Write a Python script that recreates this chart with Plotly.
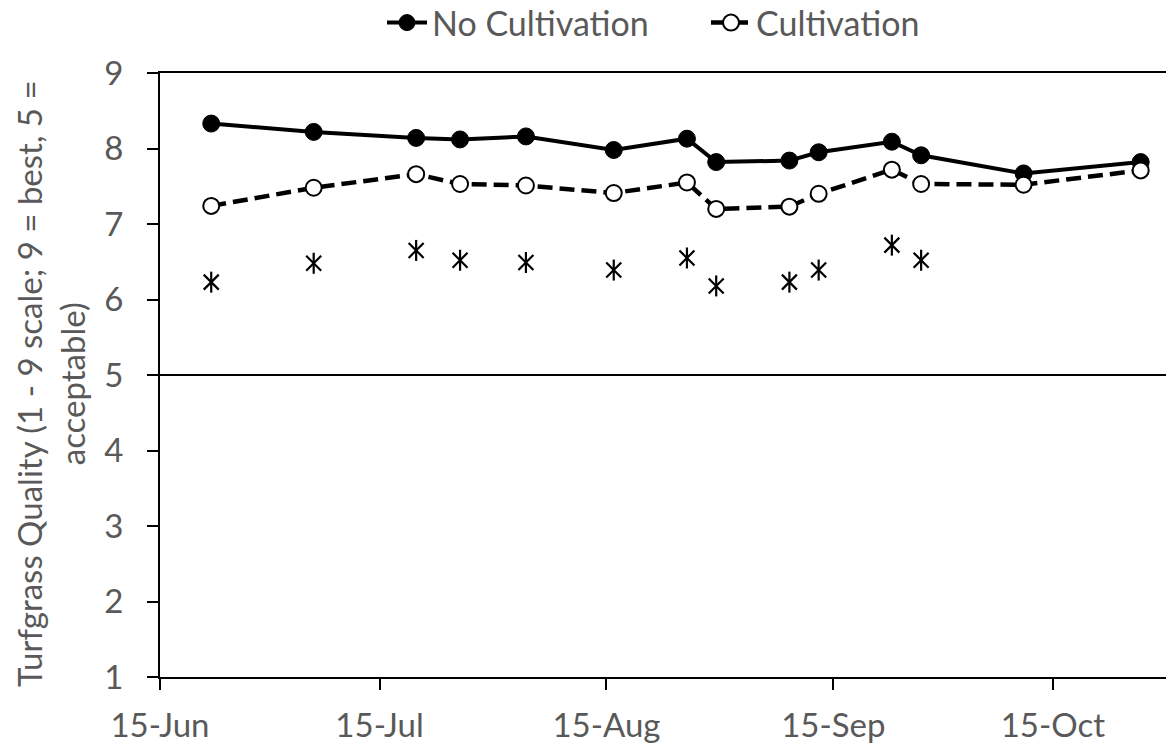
import plotly.graph_objects as go

# ---- data ----
dates = ["2013-06-22", "2013-07-06", "2013-07-20", "2013-07-26", "2013-08-04",
         "2013-08-16", "2013-08-26", "2013-08-30", "2013-09-09", "2013-09-13",
         "2013-09-23", "2013-09-27", "2013-10-11", "2013-10-27"]
no_cultivation = [8.33, 8.22, 8.14, 8.12, 8.16, 7.98, 8.13, 7.82, 7.84, 7.95, 8.09, 7.91, 7.67, 7.82]
cultivation = [7.24, 7.48, 7.66, 7.53, 7.51, 7.41, 7.55, 7.20, 7.23, 7.40, 7.72, 7.53, 7.52, 7.71]
sig_dates = dates[:12]
sig_values = [6.23, 6.48, 6.65, 6.52, 6.49, 6.39, 6.55, 6.18, 6.23, 6.39, 6.72, 6.52]
tick_dates = ["2013-06-15", "2013-07-15", "2013-08-15", "2013-09-15", "2013-10-15"]
tick_labels = ["15-Jun", "15-Jul", "15-Aug", "15-Sep", "15-Oct"]
y_ticks = [1, 2, 3, 4, 5, 6, 7, 8, 9]
acceptable = 5
x_range = ["2013-06-15", "2013-10-30 11:00"]
y_title = "Turfgrass Quality (1 - 9 scale; 9 = best, 5 =<br>acceptable)"

FONT = "Lato"
GRAY = "#595959"
FS_TICK = 33
FS_LEG = 34

fig = go.Figure()

# significance asterisks (X + vertical bar)
fig.add_trace(go.Scatter(x=sig_dates, y=sig_values, mode="markers", showlegend=False,
                         hoverinfo="skip",
                         marker=dict(symbol="x-thin-open", size=15, color="black",
                                     line=dict(color="black", width=2.2))))
fig.add_trace(go.Scatter(x=sig_dates, y=sig_values, mode="markers", showlegend=False,
                         hoverinfo="skip",
                         marker=dict(symbol="line-ns-open", size=15, color="black",
                                     line=dict(color="black", width=2.2))))

fig.add_trace(go.Scatter(x=dates, y=no_cultivation, mode="lines+markers", name="No Cultivation",
                         line=dict(color="black", width=4),
                         marker=dict(symbol="circle", size=17, color="black",
                                     line=dict(color="black", width=1))))
fig.add_trace(go.Scatter(x=dates, y=cultivation, mode="lines+markers", name="Cultivation",
                         line=dict(color="black", width=4.5, dash="15px,7px"),
                         marker=dict(symbol="circle", size=16, color="white",
                                     line=dict(color="black", width=2))))

fig.add_shape(type="line", xref="paper", x0=0, x1=1, yref="y", y0=acceptable, y1=acceptable,
              line=dict(color="black", width=2), layer="below")

fig.add_annotation(text=y_title, xref="paper", yref="paper",
                   x=(50 - 160) / 1006, y=0.485, xanchor="center", yanchor="middle",
                   textangle=-90, showarrow=False,
                   font=dict(family=FONT, size=FS_TICK, color=GRAY))

fig.update_layout(
    width=1166, height=745,
    margin=dict(l=160, r=0, t=73, b=68),
    paper_bgcolor="white", plot_bgcolor="white",
    font=dict(family=FONT, size=FS_TICK, color=GRAY),
    legend=dict(orientation="h", xref="container", yref="container",
                x=382 / 1166, xanchor="left", y=1 - 23 / 745, yanchor="middle",
                font=dict(family=FONT, size=FS_LEG, color=GRAY), bgcolor="rgba(0,0,0,0)",
                traceorder="normal", entrywidth=269, itemwidth=40),
    xaxis=dict(type="date", range=x_range, tickvals=tick_dates, ticktext=tick_labels,
               showgrid=False, zeroline=False, showline=True, linecolor="black", linewidth=2,
               mirror=True, ticks="outside", ticklen=11, tickwidth=2, tickcolor="black",
               tickfont=dict(family=FONT, size=FS_TICK, color=GRAY), ticklabelstandoff=7),
    yaxis=dict(range=[1, 9], tickvals=y_ticks, showgrid=False, zeroline=False,
               showline=True, linecolor="black", linewidth=2,
               ticks="outside", ticklen=11, tickwidth=2, tickcolor="black",
               tickfont=dict(family=FONT, size=FS_TICK, color=GRAY), ticklabelstandoff=17),
)

fig.write_html("out.html")
